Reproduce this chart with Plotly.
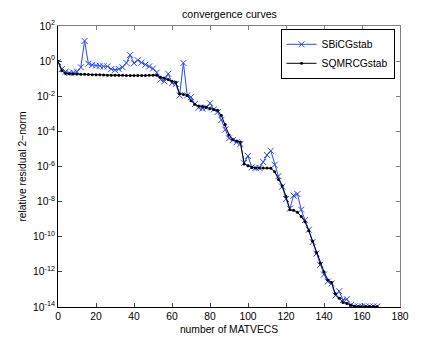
import plotly.graph_objects as go

matvecs = list(range(0, 169, 2))

sbicgstab = [
    0.89, 0.355, 0.25, 0.21, 0.224, 0.25, 0.447, 14.1, 0.71, 0.60,
    0.56, 0.54, 0.50, 0.50, 0.355, 0.316, 0.355, 0.447, 0.79, 2.24,
    0.76, 1.12, 0.83, 0.63, 0.50, 0.38, 0.224, 0.089, 0.071, 0.19,
    0.056, 0.05, 0.0112, 0.79, 0.0112, 0.0089, 0.00355, 0.00224, 0.002, 0.00224,
    0.004, 0.00178, 0.00126, 4.5e-4, 1.26e-4, 4.0e-5, 3.2e-5, 2.4e-5, 1.9e-5, 1.6e-6,
    4.0e-6, 8.9e-7, 8.3e-7, 8.3e-7, 1.8e-6, 4.5e-6, 7.9e-6, 1.26e-6, 2.8e-7, 7.1e-8,
    1.4e-8, 4.0e-9, 2.2e-8, 2.7e-8, 3.5e-9, 8.9e-10, 2.5e-10, 5.0e-11, 1.1e-11, 2.5e-12,
    7.1e-13, 2.8e-13, 2.2e-13, 4.5e-14, 7.9e-14, 2.5e-14, 2.8e-14, 1.26e-14, 1.07e-14, 1.07e-14,
    1.07e-14, 1.07e-14, 1.07e-14, 1.07e-14, 1.07e-14,
]

sqmrcgstab = [
    1.0, 0.28, 0.2, 0.19, 0.186, 0.182, 0.178, 0.178, 0.174, 0.17,
    0.166, 0.166, 0.162, 0.158, 0.158, 0.155, 0.155, 0.155, 0.151, 0.151,
    0.151, 0.151, 0.151, 0.151, 0.155, 0.158, 0.158, 0.12, 0.105, 0.089,
    0.071, 0.063, 0.0141, 0.0126, 0.0112, 0.0056, 0.00355, 0.0028, 0.0026, 0.0024,
    0.002, 0.00178, 0.00158, 7.9e-4, 2.5e-4, 6.3e-5, 3.5e-5, 2.8e-5, 2.5e-5, 1.4e-6,
    1.12e-6, 8.9e-7, 8.3e-7, 8.3e-7, 8.3e-7, 8.3e-7, 7.9e-7, 5.0e-7, 1.8e-7, 7.9e-8,
    2.0e-8, 3.5e-9, 3.2e-9, 2.5e-9, 1.4e-9, 7.1e-10, 2.2e-10, 5.6e-11, 1.26e-11, 3.2e-12,
    1.0e-12, 3.5e-13, 2.5e-13, 5.6e-14, 3.2e-14, 1.8e-14, 1.6e-14, 1.26e-14, 1.12e-14, 1.07e-14,
    1.07e-14, 1.07e-14, 1.07e-14, 1.07e-14, 1.07e-14,
]

x_ticks = [0, 20, 40, 60, 80, 100, 120, 140, 160, 180]
y_exps = [2, 0, -2, -4, -6, -8, -10, -12, -14]
y_tickvals = [10.0 ** e for e in y_exps]
y_ticktext = ["10<sup>%s</sup>" % e for e in y_exps]

FONT = "Liberation Sans, Arial, Helvetica, sans-serif"
FS = 10.3
BLUE = "rgb(40,70,255)"
GREY = "rgb(128,128,128)"

fig = go.Figure()
fig.add_trace(go.Scatter(
    x=matvecs, y=sbicgstab, name="SBiCGstab", mode="lines+markers",
    line=dict(color=BLUE, width=1),
    marker=dict(symbol="x-thin", size=6, line=dict(color=BLUE, width=1)),
))
fig.add_trace(go.Scatter(
    x=matvecs, y=sqmrcgstab, name="SQMRCGstab", mode="lines+markers",
    line=dict(color="black", width=1),
    marker=dict(symbol="circle", size=3, color="black"),
))
# invisible trace to drive the mirrored top/right axes
fig.add_trace(go.Scatter(x=[0, 180], y=[1e-14, 1e2], xaxis="x2", yaxis="y2",
                         mode="markers", marker=dict(opacity=0), showlegend=False,
                         hoverinfo="skip"))

fig.update_layout(
    width=443, height=346,
    margin=dict(l=57.5, r=43, t=26, b=39, autoexpand=False),
    paper_bgcolor="white", plot_bgcolor="white",
    font=dict(family=FONT, size=FS, color="black"),
    title=dict(text="convergence curves", x=0.518, xanchor="center",
               y=1 - 14 / 346, yanchor="middle",
               font=dict(family=FONT, size=10.6, color="black")),
    showlegend=True,
    legend=dict(x=0.984, xanchor="right", y=0.99, yanchor="top",
                bgcolor="white", bordercolor="black", borderwidth=1,
                font=dict(family=FONT, size=FS, color="black"),
                itemwidth=30, tracegroupgap=0),
    xaxis=dict(range=[0, 180], tickvals=x_ticks, ticks="inside", ticklen=4,
               showline=True, linecolor="black", linewidth=1, showgrid=False,
               zeroline=False, automargin=False,
               title=dict(text="number of MATVECS", standoff=4,
                          font=dict(family=FONT, size=FS, color="black")),
               tickfont=dict(family=FONT, size=FS, color="black")),
    yaxis=dict(type="log", range=[-14, 2], tickvals=y_tickvals, ticktext=y_ticktext,
               ticks="inside", ticklen=4, showline=True, linecolor="black", linewidth=1,
               showgrid=False, zeroline=False, automargin=False,
               title=dict(text="relative residual 2−norm", standoff=4,
                          font=dict(family=FONT, size=FS, color="black")),
               tickfont=dict(family=FONT, size=FS, color="black")),
    xaxis2=dict(overlaying="x", side="top", range=[0, 180], tickvals=x_ticks,
                ticks="inside", ticklen=4, showticklabels=False, showline=True,
                linecolor=GREY, tickcolor=GREY, automargin=False,
                showgrid=False, zeroline=False),
    yaxis2=dict(overlaying="y", side="right", type="log", range=[-14, 2],
                tickvals=y_tickvals, ticks="inside", ticklen=4, showticklabels=False,
                showline=True, linecolor=GREY, tickcolor=GREY, automargin=False,
                showgrid=False, zeroline=False),
)

fig.write_html("out.html",
               config={"displayModeBar": False},
               post_script="document.body.style.margin='0px';")
